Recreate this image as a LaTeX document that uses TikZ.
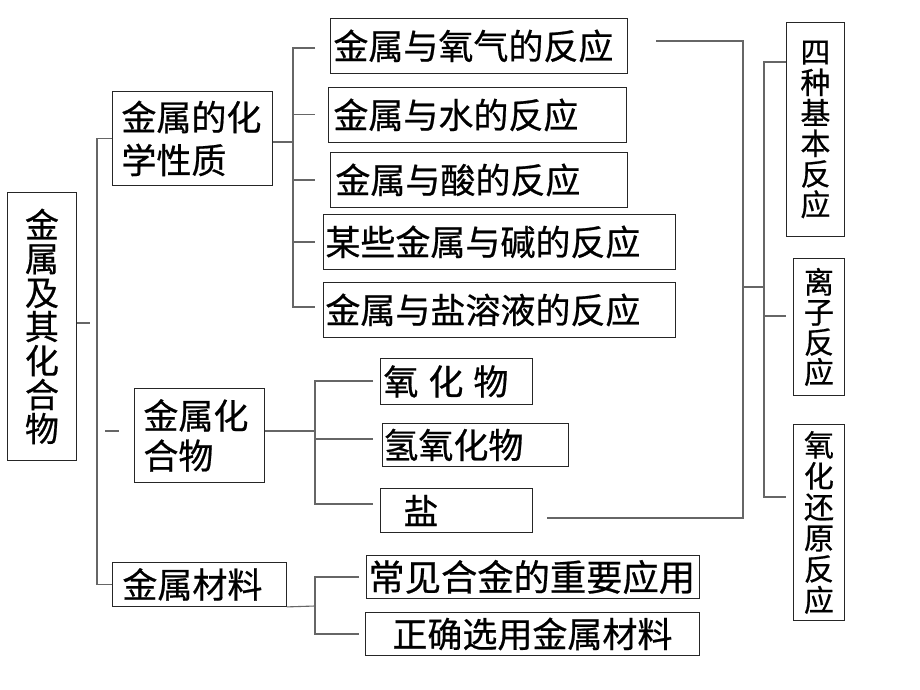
\documentclass[tikz,border=0pt]{standalone}
\usepackage{fontspec}
\newfontfamily\cjk[FakeBold=0.6]{Noto Sans CJK SC}
\tikzset{
  box/.style={draw=black!85, line width=0.9pt, anchor=north west, inner ysep=0pt,
    align=left, font=\cjk\fontsize{35}{40}\selectfont},
  vbox/.style={draw=black!85, line width=0.9pt, anchor=north west, inner ysep=0pt,
    inner xsep=2pt, align=center},
  conn/.style={draw=black!60, line width=1.1pt},
}
\begin{document}
\begin{tikzpicture}[x=1pt,y=-1pt]
\fill[white] (0,0) rectangle (920,690);
\useasboundingbox (0,0) rectangle (920,690);

% root
\node[vbox, minimum width=69pt, minimum height=268pt, font=\cjk\fontsize{34}{34}\selectfont] (root) at (7,192) {金\\属\\及\\其\\化\\合\\物};

% level 1
\node[box, minimum width=160pt, minimum height=94pt, inner xsep=9pt, text width=142pt, font=\cjk\fontsize{35}{43}\selectfont] (chem) at (112,91) {金属的化\\学性质};
\node[box, minimum width=130pt, minimum height=94pt, inner xsep=9pt, text width=112pt] (comp) at (134,388) {金属化\\合物};
\node[box, minimum width=174pt, minimum height=44pt, inner xsep=10pt, text width=154pt] (mat) at (112,562) {金属材料};

% reactions
\node[box, minimum width=297pt, minimum height=55pt, inner xsep=3pt, text width=291pt] (r1) at (330,18) {金属与氧气的反应};
\node[box, minimum width=298pt, minimum height=55pt, inner xsep=5pt, text width=288pt] (r2) at (328,87) {金属与水的反应};
\node[box, minimum width=297pt, minimum height=55pt, inner xsep=5pt, text width=287pt] (r3) at (330,152) {金属与酸的反应};
\node[box, minimum width=352pt, minimum height=55pt, inner xsep=2pt, text width=348pt] (r4) at (323,214) {某些金属与碱的反应};
\node[box, minimum width=352pt, minimum height=55pt, inner xsep=2pt, text width=348pt] (r5) at (323,282) {金属与盐溶液的反应};

% compounds
\node[box, minimum width=152pt, minimum height=46pt, inner xsep=3pt, text width=146pt] (ox) at (380,358) {氧\hspace{10pt}化\hspace{10pt}物};
\node[box, minimum width=186pt, minimum height=43pt, inner xsep=1pt, text width=184pt] (hyd) at (382,423) {氢氧化物};
\node[box, minimum width=152pt, minimum height=44pt, inner xsep=23pt, text width=106pt] (salt) at (380,488) {盐};

% materials
\node[box, minimum width=333pt, minimum height=43pt, inner xsep=2pt, text width=329pt, font=\cjk\fontsize{36.3}{40}\selectfont] (alloy) at (366,555) {常见合金的重要应用};
\node[box, minimum width=334pt, minimum height=43pt, inner xsep=2pt, text width=330pt, align=center] (select) at (365,612) {正确选用金属材料};

% right column
\node[vbox, minimum width=58pt, minimum height=214pt, font=\cjk\fontsize{30}{30.5}\selectfont] (four) at (786,22) {四\\种\\基\\本\\反\\应};
\node[vbox, minimum width=51pt, minimum height=137pt, font=\cjk\fontsize{30}{30}\selectfont] (ion) at (793,258) {离\\子\\反\\应};
\node[vbox, minimum width=51pt, minimum height=196pt, font=\cjk\fontsize{30}{31}\selectfont] (redox) at (793,424) {氧\\化\\还\\原\\反\\应};

% coordinates
\coordinate (s1) at (90,323);
\coordinate (m1) at (97,0);
\coordinate (st1) at (105,431);
\coordinate (st2) at (119,431);
\coordinate (chemj) at (293,142);
\coordinate (cb) at (293,0);
\coordinate (ce) at (315,0);
\coordinate (c1) at (293,48);
\coordinate (c5) at (293,307);
\coordinate (kb1) at (315,381);
\coordinate (kb2) at (315,439);
\coordinate (kb3) at (315,504);
\coordinate (ke) at (373,0);
\coordinate (compj) at (315,431);
\coordinate (mj) at (315,606);
\coordinate (mb1) at (315,577);
\coordinate (mb2) at (315,634);
\coordinate (me) at (359,0);
\coordinate (bt) at (656,41);
\coordinate (bc) at (743,518);
\coordinate (bb) at (547,518);
\coordinate (rj) at (743,287);
\coordinate (q1) at (764,62);
\coordinate (q2) at (764,316);
\coordinate (q3) at (764,497);
\coordinate (qe) at (786,0);

% connectors
\draw[conn] (root.east |- s1) -- (s1);
\draw[conn] (chem.west) -| (m1 |- mat.west) -- (mat.west);
\draw[conn] (st1) -- (st2);

\draw[conn] (chem.east |- chemj) -- (chemj);
\draw[conn] (c1 -| ce) -- (c1) -- (c5) -- (c5 -| ce);
\draw[conn] (r2.west -| cb) -- (r2.west -| ce);
\draw[conn] (r3.west -| cb) -- (r3.west -| ce);
\draw[conn] (r4.west -| cb) -- (r4.west -| ce);

\draw[conn] (comp.east |- compj) -- (compj);
\draw[conn] (kb1 -| ke) -- (kb1) -- (kb3) -- (kb3 -| ke);
\draw[conn] (kb2) -- (kb2 -| ke);

\draw[conn] (mat.south east) -- (mj);
\draw[conn] (mb1 -| me) -- (mb1) -- (mb2) -- (mb2 -| me);

\draw[conn] (bt) -| (bc) -- (bb);
\draw[conn] (rj) -- (rj -| q1);
\draw[conn] (four.west |- q1) -- (q1) -- (q3) -- (q3 -| qe);
\draw[conn] (q2) -- (q2 -| qe);
\end{tikzpicture}
\end{document}
